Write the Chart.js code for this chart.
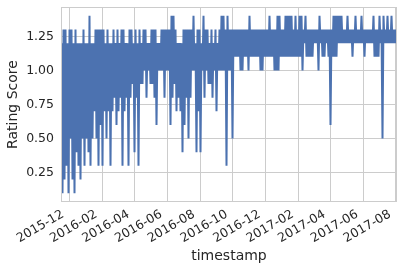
<!DOCTYPE html>
<html>
<head>
<meta charset="utf-8">
<script src="https://cdn.jsdelivr.net/npm/chart.js@4.4.0/dist/chart.umd.min.js"></script>
<style>
  html, body { margin: 0; padding: 0; background: #fff; }
  #wrap { width: 403px; height: 273px; }
</style>
</head>
<body>
<div id="wrap"><canvas id="chart"></canvas></div>
<script>
// rating score readings, first / last sample time
const startDate = '2015-11-17T00:00:00Z';
const endDate = '2017-08-02T00:00:00Z';

// upper and lower value of each short stretch of the series
const highs = [
  1.2, 1.3, 1.3, 1.2, 1.3, 1.3, 1.2, 1.3, 1.2, 1.2,
  1.2, 1.3, 1.2, 1.2, 1.4, 1.2, 1.2, 1.3, 1.3, 1.3,
  1.3, 1.3, 1.2, 1.3, 1.2, 1.2, 1.3, 1.2, 1.3, 1.2,
  1.3, 1.3, 1.2, 1.2, 1.3, 1.3, 1.2, 1.3, 1.2, 1.3,
  1.2, 1.3, 1.3, 1.2, 1.2, 1.3, 1.3, 1.3, 1.2, 1.2,
  1.3, 1.3, 1.3, 1.3, 1.3, 1.4, 1.4, 1.3, 1.2, 1.2,
  1.2, 1.3, 1.3, 1.3, 1.3, 1.3, 1.4, 1.2, 1.3, 1.3,
  1.2, 1.4, 1.3, 1.3, 1.2, 1.3, 1.2, 1.3, 1.2, 1.3,
  1.4, 1.4, 1.3, 1.4, 1.3, 1.3, 1.3, 1.3, 1.3, 1.3,
  1.3, 1.3, 1.3, 1.3, 1.4, 1.3, 1.3, 1.3, 1.3, 1.3,
  1.3, 1.3, 1.3, 1.3, 1.4, 1.3, 1.3, 1.3, 1.4, 1.4,
  1.3, 1.3, 1.4, 1.4, 1.4, 1.4, 1.3, 1.4, 1.3, 1.4,
  1.4, 1.3, 1.4, 1.3, 1.3, 1.3, 1.3, 1.3, 1.3, 1.4,
  1.3, 1.3, 1.3, 1.3, 1.3, 1.3, 1.4, 1.4, 1.4, 1.4,
  1.4, 1.3, 1.3, 1.4, 1.3, 1.3, 1.3, 1.4, 1.3, 1.3,
  1.4, 1.3, 1.3, 1.3, 1.3, 1.3, 1.4, 1.3, 1.3, 1.4,
  1.3, 1.4, 1.3, 1.4, 1.3, 1.4, 1.3, 1.3
];
const lows = [
  0.1, 0.2, 0.3, 0.1, 0.5, 0.2, 0.1, 0.4, 0.3, 0.2,
  0.5, 0.3, 0.5, 0.4, 0.3, 0.5, 0.7, 0.5, 0.3, 0.6,
  0.3, 0.7, 0.5, 0.7, 0.3, 0.7, 0.8, 0.6, 0.7, 0.8,
  0.3, 0.7, 0.8, 0.3, 0.8, 0.9, 0.4, 0.8, 0.3, 0.9,
  0.9, 1.0, 0.8, 1.0, 0.9, 0.9, 0.8, 0.6, 1.0, 1.0,
  1.0, 0.8, 1.0, 1.0, 0.6, 0.8, 0.9, 0.7, 0.8, 0.7,
  0.4, 0.6, 0.8, 0.5, 0.8, 1.0, 1.0, 0.4, 0.7, 0.4,
  1.0, 0.8, 1.0, 0.9, 0.9, 0.8, 1.0, 0.7, 1.0, 1.0,
  1.0, 1.0, 0.3, 1.0, 1.0, 0.5, 1.1, 1.1, 1.1, 1.0,
  1.0, 1.1, 1.1, 1.0, 1.1, 1.1, 1.1, 1.1, 1.1, 1.0,
  1.0, 1.1, 1.1, 1.1, 1.1, 1.1, 1.0, 1.0, 1.0, 1.1,
  1.1, 1.1, 1.1, 1.1, 1.1, 1.1, 1.1, 1.1, 1.1, 1.1,
  1.0, 1.2, 1.1, 1.1, 1.1, 1.1, 1.2, 1.2, 1.0, 1.2,
  1.1, 1.1, 1.2, 1.1, 0.6, 1.1, 1.1, 1.1, 1.2, 1.2,
  1.2, 1.2, 1.2, 1.2, 1.2, 1.1, 1.2, 1.2, 1.2, 1.2,
  1.2, 1.1, 1.2, 1.2, 1.2, 1.2, 1.1, 1.1, 1.1, 1.2,
  0.5, 1.2, 1.2, 1.2, 1.2, 1.2, 1.2, 1.2
];

const monthTicks = ['2015-12', '2016-02', '2016-04', '2016-06', '2016-08', '2016-10',
  '2016-12', '2017-02', '2017-04', '2017-06', '2017-08'];
const yTicks = [0.25, 0.5, 0.75, 1.0, 1.25];

const t0 = Date.parse(startDate);
const t1 = Date.parse(endDate);
const step = (t1 - t0) / (highs.length * 2 - 1);

const points = [];
highs.forEach((h, i) => {
  points.push({ x: t0 + step * (2 * i), y: h });
  points.push({ x: t0 + step * (2 * i + 1), y: lows[i] });
});

const tickValues = monthTicks.map(m => Date.parse(m + '-01T00:00:00Z'));

const textColor = '#262626';
const gridColor = '#cccccc';
const family = "'DejaVu Sans', sans-serif";

// light frame round the plot area
const frame = {
  id: 'frame',
  afterDatasetsDraw(chart) {
    const { ctx, chartArea: a } = chart;
    ctx.save();
    ctx.strokeStyle = gridColor;
    ctx.lineWidth = 1;
    ctx.strokeRect(Math.round(a.left) + 0.5, Math.round(a.top) + 0.5,
      Math.round(a.right - a.left) - 1, Math.round(a.bottom - a.top) - 1);
    ctx.restore();
  },
};

new Chart(document.getElementById('chart'), {
  type: 'line',
  data: {
    datasets: [{
      data: points,
      borderColor: '#4c72b0',
      borderWidth: 2,
      pointRadius: 0,
      tension: 0,
      fill: false,
    }],
  },
  options: {
    responsive: true,
    maintainAspectRatio: false,
    animation: false,
    layout: { padding: { top: 7, right: 6, bottom: 0, left: 0 } },
    plugins: {
      legend: { display: false },
      tooltip: { enabled: false },
    },
    scales: {
      x: {
        type: 'linear',
        min: t0 - step / 2,
        max: t1 + step / 2,
        grid: { color: gridColor, drawTicks: false },
        border: { display: false },
        afterBuildTicks: s => { s.ticks = tickValues.map(v => ({ value: v })); },
        afterFit: s => { s.height = 71; s.paddingLeft = 0; s.paddingRight = 0; },
        ticks: {
          autoSkip: false,
          minRotation: 30,
          maxRotation: 30,
          padding: 5,
          labelOffset: -6,
          color: textColor,
          font: { family, size: 12.5 },
          callback: (v, i) => monthTicks[i],
        },
        title: {
          display: true,
          text: 'timestamp',
          color: textColor,
          font: { family, size: 14 },
          padding: { top: 0, bottom: 8.6 },
        },
      },
      y: {
        min: 0.035,
        max: 1.465,
        grid: { color: gridColor, drawTicks: false },
        border: { display: false },
        afterBuildTicks: s => { s.ticks = yTicks.map(v => ({ value: v })); },
        afterFit: s => { s.width = 61; s.paddingTop = 0; s.paddingBottom = 0; },
        ticks: {
          padding: 7,
          color: textColor,
          font: { family, size: 12.5 },
          callback: v => v.toFixed(2),
        },
        title: {
          display: true,
          text: 'Rating Score',
          color: textColor,
          font: { family, size: 14 },
          padding: { top: 4.5, bottom: 0 },
        },
      },
    },
  },
  plugins: [frame],
});
</script>
</body>
</html>
